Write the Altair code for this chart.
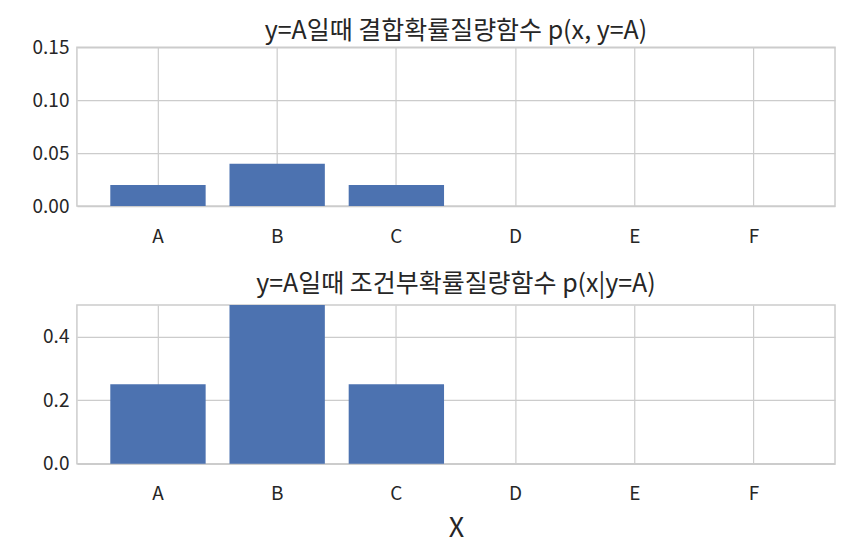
import altair as alt
import pandas as pd

categories = ["A", "B", "C", "D", "E", "F"]
joint_vals = [0.02, 0.04, 0.02, 0.0, 0.0, 0.0]
cond_vals = [0.25, 0.5, 0.25, 0.0, 0.0, 0.0]

title_top = "y=A일때 결합확률질량함수 p(x, y=A)"
title_bottom = "y=A일때 조건부확률질량함수 p(x|y=A)"

FONT = "Noto Sans CJK KR"
TXT = "#262626"
GRID = "#cccccc"
BAR = "#4C72B0"

df1 = pd.DataFrame({"x": categories, "p": joint_vals})
df2 = pd.DataFrame({"x": categories, "p": cond_vals})

xscale = alt.Scale(domain=categories, paddingInner=0.2, paddingOuter=0.28)


def panel(df, title, ydom, yticks, yfmt, xtitle, tdy):
    xaxis = alt.Axis(title=xtitle, labelAngle=0, ticks=False, domain=False,
                     grid=True, bandPosition=0.5, labelPadding=21,
                     labelFontSize=19, titlePadding=12, titleFontSize=27,
                     titleFontWeight="normal")
    yaxis = alt.Axis(title=None, values=yticks, format=yfmt, ticks=False,
                     domain=False, grid=True, labelPadding=8, labelFontSize=19,
                     minExtent=50, maxExtent=50)
    return alt.Chart(df).mark_bar(color=BAR).encode(
        x=alt.X("x:N", scale=xscale, axis=xaxis, sort=categories),
        y=alt.Y("p:Q", scale=alt.Scale(domain=ydom, nice=False, zero=True), axis=yaxis),
    ).properties(
        width=759, height=159,
        title=alt.TitleParams(title, fontSize=25, font=FONT, color=TXT,
                              fontWeight="normal", offset=1, dy=tdy),
    )


top = panel(df1, title_top, [0, 0.15], [0, 0.05, 0.10, 0.15], ".2f", None, 7)
bottom = panel(df2, title_bottom, [0, 0.5], [0, 0.2, 0.4], ".1f", "X", -7)

chart = alt.vconcat(top, bottom, spacing=24).properties(
    padding={"left": 18, "top": 10, "right": 5, "bottom": 8}
).configure(
    font=FONT,
).configure_axis(
    labelFont=FONT, titleFont=FONT, labelColor=TXT,
    titleColor=TXT, gridColor=GRID, gridWidth=1.2, gridOpacity=1,
).configure_view(
    stroke=GRID, strokeWidth=1.5,
).configure_concat(spacing=24)

chart.save("out.html", embed_options={"renderer": "svg", "actions": False})
